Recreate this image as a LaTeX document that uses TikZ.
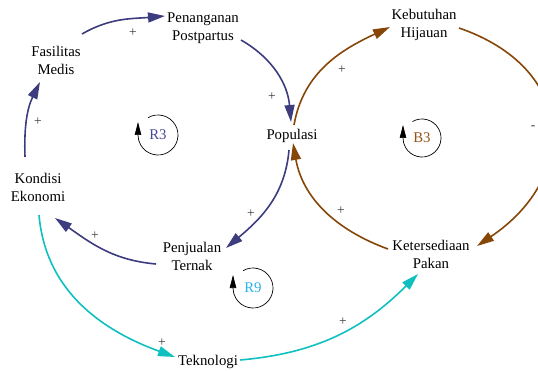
\documentclass[tikz,border=0pt]{standalone}
\usepackage{fontspec}
\setmainfont{Liberation Serif}
\usetikzlibrary{arrows.meta,calc}
\definecolor{navyloop}{RGB}{60,60,126}
\definecolor{brownloop}{RGB}{134,70,8}
\definecolor{cyanloop}{RGB}{16,192,192}
\definecolor{rnavy}{RGB}{72,72,150}
\definecolor{rbrown}{RGB}{150,82,20}
\definecolor{rsky}{RGB}{40,178,238}
\begin{document}
\begin{tikzpicture}[x=1pt,y=1pt,
  var/.style={align=center, inner sep=0pt, font=\fontsize{14.8}{18}\selectfont, text=black},
  link/.style={line width=1.6pt, -{Triangle[length=17pt,width=10pt]}},
  pol/.style={inner sep=0pt, font=\fontsize{13.5}{13.5}\selectfont, text=black!78},
  looplabel/.style={inner sep=0pt, font=\fontsize{14.8}{18}\selectfont},
  loopmark/.style={line width=0.7pt, black, -{Triangle[length=13pt,width=6.5pt]}},
]
\useasboundingbox (0,0) rectangle (538,370);

% variables
\node[var] (pen) at (203,342) {Penanganan\\Postpartus};
\node[var] (fas) at (56,310) {Fasilitas\\Medis};
\node[var] (kon) at (38,183) {Kondisi\\Ekonomi};
\node[var] (pop) at (292,234) {Populasi};
\node[var] (keb) at (424,345) {Kebutuhan\\Hijauan};
\node[var] (ket) at (431,116) {Ketersediaan\\Pakan};
\node[var] (pju) at (192,114) {Penjualan\\Ternak};
\node[var] (tek) at (208,8) {Teknologi};

% reinforcing loop R3
\draw[link, navyloop] ($(kon)+(-13,30)$) to[out=92, in=-116] ($(fas)+(-16,-22)$);
\draw[link, navyloop] ($(fas)+(26,26)$) to[out=30, in=185] ($(pen)+(-38,12)$);
\draw[link, navyloop] ($(pen)+(38,-12)$) to[out=-30, in=95] ($(pop)+(-1,14)$);
\draw[link, navyloop] ($(pop)+(-3,-14)$) to[out=-95, in=40] ($(pju)+(34,8)$);
\draw[link, navyloop] ($(pju)+(-36,-8)$) to[out=175, in=-35] ($(kon)+(17,-31)$);

% balancing loop B3
\draw[link, brownloop] ($(pop)+(2,11)$) to[out=80, in=205] ($(keb)+(-34,-2)$);
\draw[link, brownloop] ($(keb)+(35,-3)$) to[out=-19, in=34, looseness=1.45] ($(ket)+(46,8)$);
\draw[link, brownloop] ($(ket)+(-43,5)$) to[out=160, in=-80] ($(pop)+(1,-7)$);

% reinforcing loop R9
\draw[link, cyanloop] ($(kon)+(1,-28)$) to[out=-85, in=160] ($(tek)+(-33,5)$);
\draw[link, cyanloop] ($(tek)+(32,2)$) to[out=5, in=225] ($(ket)+(-13,-20)$);

% link polarities
\node[pol] (p1) at (38,248) {+};
\node[pol] (p2) at (133,337) {+};
\node[pol] (p3) at (272,273) {+};
\node[pol] (p4) at (251,156) {+};
\node[pol] (p5) at (95,134) {+};
\node[pol] (p6) at (342,300) {+};
\node[pol] (p7) at (533,242) {-};
\node[pol] (p8) at (341,159) {+};
\node[pol] (p9) at (162,27) {+};
\node[pol] (p10) at (343,48) {+};

% loop markers
\node[looplabel, text=rnavy] (r3) at (158,235) {R3};
\draw[loopmark] ($(r3)+(120:20)$) arc[start angle=120, end angle=-180, radius=20] -- ++(0,13);
\node[looplabel, text=rbrown] (b3) at (422,232) {B3};
\draw[loopmark] ($(b3)+(120:19)$) arc[start angle=120, end angle=-180, radius=19] -- ++(0,13);
\node[looplabel, text=rsky] (r9) at (253,82) {R9};
\draw[loopmark] ($(r9)+(120:20)$) arc[start angle=120, end angle=-180, radius=20] -- ++(0,13);
\end{tikzpicture}
\end{document}
